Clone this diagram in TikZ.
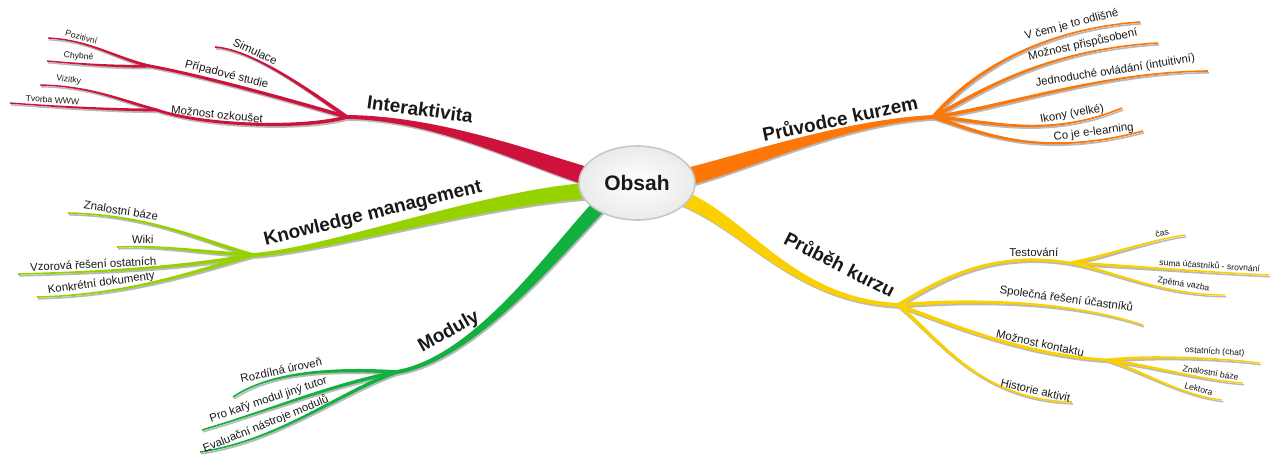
\documentclass[tikz,border=0pt]{standalone}
\usepackage{fontspec}
\setmainfont{Liberation Sans}
\usetikzlibrary{calc,shapes.geometric}
\definecolor{redc}{RGB}{206,18,60}
\definecolor{orc}{RGB}{252,118,8}
\definecolor{yelc}{RGB}{250,208,0}
\definecolor{knowc}{RGB}{150,210,0}
\definecolor{modc}{RGB}{18,176,62}
\definecolor{shd}{RGB}{185,185,185}
\definecolor{txt}{RGB}{25,25,25}
\definecolor{ellc}{RGB}{200,200,200}
\newcommand\branch[7]{\fill[#1] ($(#2)!#6!90:(#3)$) .. controls ($(#3)!#6!-90:(#2)$) and ($(#4)!#7!90:(#5)$) .. ($(#5)!#7!-90:(#4)$) -- ($(#5)!#7!90:(#4)$) .. controls ($(#4)!#7!-90:(#5)$) and ($(#3)!#6!90:(#2)$) .. ($(#2)!#6!-90:(#3)$) -- cycle;}
\newcommand\blabel[8]{\path (#1) .. controls (#2) and (#3) .. (#4) node[#6, sloped, above=1.3pt, pos=#5] (#7) {#8};}
\newcommand\allbranches{%
% red
\branch{cred}{JR}{315,95}{255,50}{eSim}{0.9pt}{0.4pt}
\branch{cred}{JR}{290,100}{200,75}{SP}{0.9pt}{0.7pt}
\branch{cred}{SP}{115,58}{90,40}{ePoz}{0.7pt}{0.35pt}
\branch{cred}{SP}{120,67}{80,64}{eChy}{0.7pt}{0.35pt}
\branch{cred}{JR}{300,130}{200,125}{SM}{0.9pt}{0.7pt}
\branch{cred}{SM}{120,100}{90,86}{eViz}{0.7pt}{0.35pt}
\branch{cred}{SM}{120,110}{60,107}{eTvo}{0.7pt}{0.35pt}
\branch{cred}{cR}{530,160}{440,118}{JR}{4.5pt}{1pt}
% orange
\branch{cor}{JO}{965,80}{1030,30}{eVcem}{0.9pt}{0.4pt}
\branch{cor}{JO}{975,95}{1040,50}{eMoz}{0.9pt}{0.4pt}
\branch{cor}{JO}{1000,108}{1100,72}{eJed}{0.9pt}{0.4pt}
\branch{cor}{JO}{985,120}{1045,140}{eIko}{0.9pt}{0.4pt}
\branch{cor}{JO}{975,130}{1035,160}{eCo}{0.9pt}{0.4pt}
\branch{cor}{cO}{740,165}{840,122}{JO}{4.5pt}{1pt}
% knowledge
\branch{cknow}{JK}{200,240}{150,215}{eZna}{0.9pt}{0.4pt}
\branch{cknow}{JK}{200,252}{160,245}{eWiki}{0.9pt}{0.4pt}
\branch{cknow}{JK}{180,268}{100,272}{eVzo}{0.9pt}{0.4pt}
\branch{cknow}{JK}{200,270}{130,295}{eKon}{0.9pt}{0.4pt}
\branch{cknow}{cK}{490,195}{330,250}{JK}{4pt}{1pt}
% moduly
\branch{cmod}{JM}{330,368}{270,372}{eRoz}{0.9pt}{0.4pt}
\branch{cmod}{JM}{330,385}{270,410}{ePro}{0.9pt}{0.4pt}
\branch{cmod}{JM}{340,392}{280,440}{eEva}{0.9pt}{0.4pt}
\branch{cmod}{cM}{560,245}{478,358}{JM}{3.6pt}{1pt}
% yellow
\branch{cyel}{JY}{940,280}{990,250}{ST}{0.9pt}{0.7pt}
\branch{cyel}{ST}{1110,255}{1150,240}{eCas}{0.7pt}{0.35pt}
\branch{cyel}{ST}{1120,265}{1200,272}{eSuma}{0.7pt}{0.35pt}
\branch{cyel}{ST}{1110,270}{1160,295}{eZpe}{0.7pt}{0.35pt}
\branch{cyel}{JY}{960,300}{1060,298}{eSpo}{0.9pt}{0.4pt}
\branch{cyel}{JY}{940,320}{1020,355}{SK}{0.9pt}{0.7pt}
\branch{cyel}{SK}{1150,355}{1220,358}{eOst}{0.7pt}{0.35pt}
\branch{cyel}{SK}{1150,365}{1200,380}{eZnb}{0.7pt}{0.35pt}
\branch{cyel}{SK}{1140,370}{1180,395}{eLek}{0.7pt}{0.35pt}
\branch{cyel}{JY}{940,340}{980,400}{eHis}{0.9pt}{0.4pt}
\branch{cyel}{cY}{745,220}{790,300}{JY}{3.6pt}{1pt}
}
\begin{document}
\begin{tikzpicture}[x=0.5pt,y=-0.5pt,
  cred/.style={fill=redc}, cor/.style={fill=orc}, cyel/.style={fill=yelc},
  cknow/.style={fill=knowc}, cmod/.style={fill=modc},
  labA/.style={font=\fontsize{9.5}{11}\selectfont\bfseries, text=txt, inner sep=0pt},
  labB/.style={font=\fontsize{5.7}{7}\selectfont, text=txt, inner sep=0pt},
  labC/.style={font=\fontsize{4.3}{5}\selectfont, text=txt, inner sep=0pt}]
\useasboundingbox (0,0) rectangle (1271,456);
% coordinates
\coordinate (cR) at (600,180);
\coordinate (cO) at (675,180);
\coordinate (cK) at (600,190);
\coordinate (cM) at (605,200);
\coordinate (cY) at (675,195);
\coordinate (JR) at (347,117);
\coordinate (JO) at (933,117);
\coordinate (JK) at (253,255);
\coordinate (JM) at (397,372);
\coordinate (JY) at (898,305);
\coordinate (SP) at (150,66);
\coordinate (SM) at (157,110);
\coordinate (ST) at (1070,263);
\coordinate (SK) at (1107,360);
\coordinate (eSim) at (215,47);
\coordinate (ePoz) at (48,38);
\coordinate (eChy) at (47,61);
\coordinate (eViz) at (40,85);
\coordinate (eTvo) at (10,103);
\coordinate (eVcem) at (1140,22);
\coordinate (eMoz) at (1158,43);
\coordinate (eJed) at (1208,71);
\coordinate (eIko) at (1122,108);
\coordinate (eCo) at (1143,131);
\coordinate (eZna) at (68,213);
\coordinate (eWiki) at (117,247);
\coordinate (eVzo) at (18,274);
\coordinate (eKon) at (37,297);
\coordinate (eRoz) at (233,397);
\coordinate (ePro) at (202,430);
\coordinate (eEva) at (200,452);
\coordinate (eCas) at (1185,235);
\coordinate (eSuma) at (1269,275);
\coordinate (eZpe) at (1225,295);
\coordinate (eSpo) at (1143,325);
\coordinate (eOst) at (1260,363);
\coordinate (eZnb) at (1243,383);
\coordinate (eLek) at (1222,400);
\coordinate (eHis) at (1072,402);
% shadows
\begin{scope}[transform canvas={shift={(0.6pt,-0.9pt)}},
  cred/.style={fill=shd}, cor/.style={fill=shd}, cyel/.style={fill=shd},
  cknow/.style={fill=shd}, cmod/.style={fill=shd}]
\allbranches
\end{scope}
\allbranches
% centre
\node[ellipse, draw=ellc, line width=0.8pt, inner color=white, outer color=gray!16,
  minimum width=58pt, minimum height=37pt, inner sep=0pt,
  font=\fontsize{10.5}{12}\selectfont\bfseries, text=txt] (obsah) at (637,183) {Obsah};
% main labels
\node[labA, rotate=-8] (lInt) at (420,109) {Interaktivita};
\node[labA, rotate=12] (lPru) at (840,118) {Průvodce kurzem};
\node[labA, rotate=14] (lKno) at (373,214) {Knowledge management};
\node[labA, rotate=29] (lMod) at (449,332) {Moduly};
\node[labA, rotate=-27] (lPrb) at (840,264) {Průběh kurzu};
% red labels
\blabel{eSim}{255,50}{315,95}{JR}{0.28}{labB}{lSim}{Simulace}
\blabel{SP}{200,75}{290,100}{JR}{0.4}{labB}{lPri}{Případové studie}
\blabel{SM}{200,125}{300,130}{JR}{0.34}{labB}{lMoz}{Možnost ozkoušet}
\blabel{ePoz}{90,40}{115,58}{SP}{0.28}{labC}{lPoz}{Pozitivní}
\blabel{eChy}{80,64}{120,67}{SP}{0.3}{labC}{lChy}{Chybné}
\blabel{eViz}{90,86}{120,100}{SM}{0.2}{labC}{lViz}{Vizitky}
\blabel{eTvo}{60,107}{120,110}{SM}{0.27}{labC}{lTvo}{Tvorba WWW}
% orange labels
\blabel{JO}{965,80}{1030,30}{eVcem}{0.78}{labB}{lVcem}{V čem je to odlišné}
\blabel{JO}{975,95}{1040,50}{eMoz}{0.77}{labB}{lMpr}{Možnost přispůsobení}
\blabel{JO}{1000,108}{1100,72}{eJed}{0.71}{labB}{lJed}{Jednoduché ovládání (intuitivní)}
\blabel{JO}{985,120}{1045,140}{eIko}{0.78}{labB}{lIko}{Ikony (velké)}
\blabel{JO}{975,130}{1035,160}{eCo}{0.84}{labB}{lCo}{Co je e-learning}
% knowledge labels
\blabel{eZna}{150,215}{200,240}{JK}{0.23}{labB}{lZna}{Znalostní báze}
\blabel{eWiki}{160,245}{200,252}{JK}{0.2}{labB}{lWiki}{Wiki}
\blabel{eVzo}{100,272}{180,268}{JK}{0.31}{labB}{lVzo}{Vzorová řešení ostatních}
\blabel{eKon}{130,295}{200,270}{JK}{0.25}{labB}{lKon}{Konkrétní dokumenty}
% moduly labels
\blabel{eRoz}{270,372}{330,368}{JM}{0.37}{labB}{lRoz}{Rozdílná úroveň}
\blabel{ePro}{270,410}{330,385}{JM}{0.35}{labB}{lProk}{Pro kařý modul jiný tutor}
\blabel{eEva}{280,440}{340,392}{JM}{0.31}{labB}{lEva}{Evaluační nástroje modulů}
% yellow labels
\blabel{JY}{940,280}{990,250}{ST}{0.84}{labB}{lTes}{Testování}
\blabel{ST}{1110,255}{1150,240}{eCas}{0.8}{labC}{lCas}{čas}
\blabel{ST}{1120,265}{1200,272}{eSuma}{0.72}{labC}{lSuma}{suma účastníků - srovnání}
\blabel{ST}{1110,270}{1160,295}{eZpe}{0.77}{labC}{lZpe}{Zpětná vazba}
\blabel{JY}{960,300}{1060,298}{eSpo}{0.7}{labB}{lSpo}{Společná řešení účastníků}
\blabel{JY}{940,320}{1020,355}{SK}{0.73}{labB}{lMko}{Možnost kontaktu}
\blabel{SK}{1150,355}{1220,358}{eOst}{0.68}{labC}{lOst}{ostatních (chat)}
\blabel{SK}{1150,365}{1200,380}{eZnb}{0.75}{labC}{lZnb}{Znalostní báze}
\blabel{SK}{1140,370}{1180,395}{eLek}{0.8}{labC}{lLek}{Lektora}
\blabel{JY}{940,340}{980,400}{eHis}{0.85}{labB}{lHis}{Historie aktivit}
\end{tikzpicture}
\end{document}
